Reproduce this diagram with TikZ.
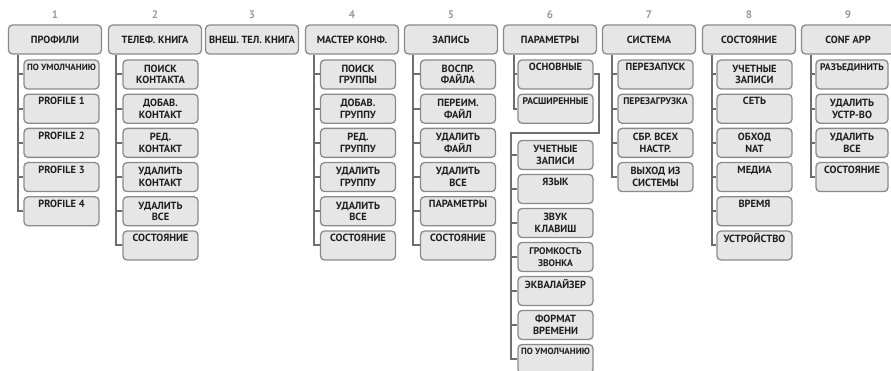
\documentclass[tikz,border=0pt]{standalone}
\usepackage{fontspec}
\setmainfont{PT Sans}
\usepackage{xcolor}
\definecolor{boxfill}{HTML}{E6E6E6}
\definecolor{boxline}{HTML}{8A8A8A}
\definecolor{linkgray}{HTML}{6E6E6E}
\definecolor{numgray}{HTML}{9A9A9A}
\definecolor{txt}{HTML}{1E1E1E}

\tikzset{
  head/.style={draw=boxline,fill=boxfill,line width=1.3pt,rounded corners=4pt,
    minimum width=93pt,minimum height=29pt,inner sep=1pt,text=txt,
    font=\bfseries\fontsize{10.4}{11}\selectfont},
  item/.style={draw=boxline,fill=boxfill,line width=1.3pt,rounded corners=4pt,
    minimum width=75pt,minimum height=29pt,inner sep=1pt,align=center,text=txt,
    font=\bfseries\fontsize{10.4}{11.5}\selectfont},
  tight/.style={font=\bfseries\fontsize{9}{11.5}\selectfont},
  narrow/.style={font=\bfseries\fontsize{9.6}{11.5}\selectfont},
  num/.style={text=numgray,font=\bfseries\fontsize{11}{12}\selectfont},
  link/.style={draw=linkgray,line width=2pt}
}

\begin{document}
\begin{tikzpicture}[x=1pt,y=-1pt]
\useasboundingbox (0,0) rectangle (891,371);

% column numbers
\node[num] (n1) at (55,15) {1};
\node[num] (n2) at (155,15) {2};
\node[num] (n3) at (252,15) {3};
\node[num] (n4) at (352,15) {4};
\node[num] (n5) at (451,15) {5};
\node[num] (n6) at (550,15) {6};
\node[num] (n7) at (649,15) {7};
\node[num] (n8) at (749,15) {8};
\node[num] (n9) at (848,15) {9};

% main menu
\node[head] (p1) at (55,39.5) {ПРОФИЛИ};
\node[head] (p2) at (155,39.5) {ТЕЛЕФ. КНИГА};
\node[head] (p3) at (252,39.5) {ВНЕШ. ТЕЛ. КНИГА};
\node[head] (p4) at (352,39.5) {МАСТЕР КОНФ.};
\node[head] (p5) at (451,39.5) {ЗАПИСЬ};
\node[head] (p6) at (550,39.5) {ПАРАМЕТРЫ};
\node[head] (p7) at (649,39.5) {СИСТЕМА};
\node[head] (p8) at (749,39.5) {СОСТОЯНИЕ};
\node[head] (p9) at (848,39.5) {CONF APP};

% 1
\node[item,tight] (p1a) at (61.5,74.5) {ПО УМОЛЧАНИЮ\\\strut};
\node[item] (p1b) at (61.5,108.7) {PROFILE 1\\\strut};
\node[item] (p1c) at (61.5,142.9) {PROFILE 2\\\strut};
\node[item] (p1d) at (61.5,177.1) {PROFILE 3\\\strut};
\node[item] (p1e) at (61.5,211.3) {PROFILE 4\\\strut};
\coordinate (v1) at ([xshift=-5pt]p1a.west);
\draw[link] (v1 |- p1.south) |- (p1e.west);
\foreach \c in {p1a,p1b,p1c,p1d} \draw[link] (v1 |- \c.west) -- (\c.west);

% 2
\node[item] (p2a) at (160.5,74.5) {ПОИСК\\КОНТАКТА};
\node[item] (p2b) at (160.5,108.7) {ДОБАВ.\\КОНТАКТ};
\node[item] (p2c) at (160.5,142.9) {РЕД.\\КОНТАКТ};
\node[item] (p2d) at (160.5,177.1) {УДАЛИТЬ\\КОНТАКТ};
\node[item] (p2e) at (160.5,211.3) {УДАЛИТЬ\\ВСЕ};
\node[item] (p2f) at (160.5,245.5) {СОСТОЯНИЕ\\\strut};
\coordinate (v2) at ([xshift=-6pt]p2a.west);
\draw[link] (v2 |- p2.south) |- (p2f.west);
\foreach \c in {p2a,p2b,p2c,p2d,p2e} \draw[link] (v2 |- \c.west) -- (\c.west);

% 4
\node[item] (p4a) at (358,74.5) {ПОИСК\\ГРУППЫ};
\node[item] (p4b) at (358,108.7) {ДОБАВ.\\ГРУППУ};
\node[item] (p4c) at (358,142.9) {РЕД.\\ГРУППУ};
\node[item] (p4d) at (358,177.1) {УДАЛИТЬ\\ГРУППУ};
\node[item] (p4e) at (358,211.3) {УДАЛИТЬ\\ВСЕ};
\node[item] (p4f) at (358,245.5) {СОСТОЯНИЕ\\\strut};
\coordinate (v4) at ([xshift=-6pt]p4a.west);
\draw[link] (v4 |- p4.south) |- (p4f.west);
\foreach \c in {p4a,p4b,p4c,p4d,p4e} \draw[link] (v4 |- \c.west) -- (\c.west);

% 5
\node[item] (p5a) at (458,74.5) {ВОСПР.\\ФАЙЛА};
\node[item] (p5b) at (458,108.7) {ПЕРЕИМ.\\ФАЙЛ};
\node[item] (p5c) at (458,142.9) {УДАЛИТЬ\\ФАЙЛ};
\node[item] (p5d) at (458,177.1) {УДАЛИТЬ\\ВСЕ};
\node[item] (p5e) at (458,211.3) {ПАРАМЕТРЫ\\\strut};
\node[item] (p5f) at (458,245.5) {СОСТОЯНИЕ\\\strut};
\coordinate (v5) at ([xshift=-7pt]p5a.west);
\draw[link] (v5 |- p5.south) |- (p5f.west);
\foreach \c in {p5a,p5b,p5c,p5d,p5e} \draw[link] (v5 |- \c.west) -- (\c.west);

% 6
\node[item] (p6a) at (555.5,74.5) {ОСНОВНЫЕ\\\strut};
\node[item,narrow] (p6b) at (555.5,108.7) {РАСШИРЕННЫЕ\\\strut};
\coordinate (v6) at ([xshift=-3pt]p6a.west);
\draw[link] (v6 |- p6.south) |- (p6b.west);
\draw[link] (v6 |- p6a.west) -- (p6a.west);
\node[item] (p6c) at (555.5,155) {УЧЕТНЫЕ\\ЗАПИСИ};
\node[item] (p6d) at (555.5,189) {ЯЗЫК\\\strut};
\node[item] (p6e) at (555.5,223) {ЗВУК\\КЛАВИШ};
\node[item,narrow] (p6f) at (555.5,257) {ГРОМКОСТЬ\\ЗВОНКА};
\node[item] (p6g) at (555.5,291) {ЭКВАЛАЙЗЕР\\\strut};
\node[item] (p6h) at (555.5,325) {ФОРМАТ\\ВРЕМЕНИ};
\node[item,tight] (p6i) at (555.5,359) {ПО УМОЛЧАНИЮ\\\strut};
\coordinate (v6b) at ([xshift=-6pt]p6c.west);
\draw[link] (p6a.east) -- ++(5,0) |- ([yshift=-9pt]p6b.south -| v6b) -- (v6b |- p6i.west) -- (p6i.west);
\foreach \c in {p6c,p6d,p6e,p6f,p6g,p6h} \draw[link] (v6b |- \c.west) -- (\c.west);

% 7
\node[item] (p7a) at (655.5,74.5) {ПЕРЕЗАПУСК\\\strut};
\node[item,narrow] (p7b) at (655.5,108.7) {ПЕРЕЗАГРУЗКА\\\strut};
\node[item] (p7c) at (655.5,142.9) {СБР. ВСЕХ\\НАСТР.};
\node[item] (p7d) at (655.5,177.1) {ВЫХОД ИЗ\\СИСТЕМЫ};
\coordinate (v7) at ([xshift=-5pt]p7a.west);
\draw[link] (v7 |- p7.south) |- (p7d.west);
\foreach \c in {p7a,p7b,p7c} \draw[link] (v7 |- \c.west) -- (\c.west);

% 8
\node[item] (p8a) at (754.5,74.5) {УЧЕТНЫЕ\\ЗАПИСИ};
\node[item] (p8b) at (754.5,108.7) {СЕТЬ\\\strut};
\node[item] (p8c) at (754.5,142.9) {ОБХОД\\NAT};
\node[item] (p8d) at (754.5,177.1) {МЕДИА\\\strut};
\node[item] (p8e) at (754.5,211.3) {ВРЕМЯ\\\strut};
\node[item] (p8f) at (754.5,245.5) {УСТРОЙСТВО\\\strut};
\coordinate (v8) at ([xshift=-4pt]p8a.west);
\draw[link] (v8 |- p8.south) |- (p8f.west);
\foreach \c in {p8a,p8b,p8c,p8d,p8e} \draw[link] (v8 |- \c.west) -- (\c.west);

% 9
\node[item,narrow,minimum width=72pt] (p9a) at (852,74.5) {РАЗЪЕДИНИТЬ\\\strut};
\node[item,minimum width=72pt] (p9b) at (852,108.7) {УДАЛИТЬ\\УСТР-ВО};
\node[item,minimum width=72pt] (p9c) at (852,142.9) {УДАЛИТЬ\\ВСЕ};
\node[item,minimum width=72pt] (p9d) at (852,177.1) {СОСТОЯНИЕ\\\strut};
\coordinate (v9) at ([xshift=-4pt]p9a.west);
\draw[link] (v9 |- p9.south) |- (p9d.west);
\foreach \c in {p9a,p9b,p9c} \draw[link] (v9 |- \c.west) -- (\c.west);
\end{tikzpicture}
\end{document}
